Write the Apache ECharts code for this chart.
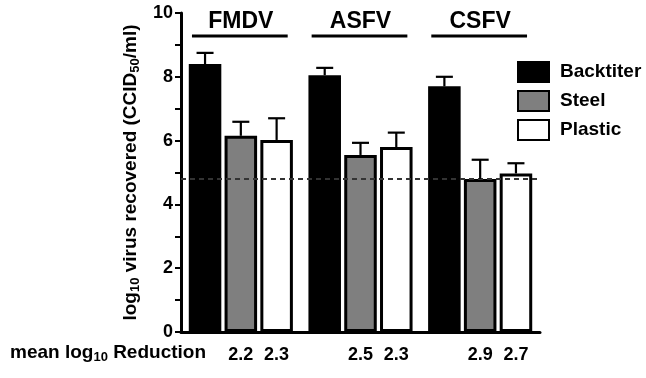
<!DOCTYPE html>
<html>
<head>
<meta charset="utf-8" />
<title>Virus recovery</title>
<script src="https://cdn.jsdelivr.net/npm/echarts@6/dist/echarts.min.js"></script>
<style>
  html, body { margin: 0; padding: 0; background: #fff; }
</style>
</head>
<body>
<div id="main" style="width: 646px; height: 378px;"></div>
<script>
// data
const categories = ['FMDV', 'ASFV', 'CSFV'];
const backtiter = [8.4, 8.05, 7.7];
const backtiterErr = [0.35, 0.23, 0.3];
const steel = [6.15, 5.55, 4.8];
const steelErr = [0.44, 0.38, 0.6];
const plastic = [6.02, 5.8, 4.97];
const plasticErr = [0.68, 0.45, 0.32];
const reductionSteel = ['2.2', '2.5', '2.9'];
const reductionPlastic = ['2.3', '2.3', '2.7'];
const detectionLimit = 4.8;

const FONT = 'Liberation Sans, Arial, sans-serif';
const CAT_GAP = 0.13, BAR_GAP = 0.1;

const chart = echarts.init(document.getElementById('main'));

// error bar drawn above the k-th bar of each group
function errorSeries(name, k, vals, errs) {
  return {
    type: 'custom',
    name: name + ' err',
    z: 5,
    data: vals.map((v, i) => [i, v, errs[i]]),
    renderItem: (params, api) => {
      const i = api.value(0), v = api.value(1), e = api.value(2);
      const base = api.coord([i, v]);
      const top = api.coord([i, v + e]);
      const catW = api.size([1, 0])[0];
      const w = catW * (1 - CAT_GAP) / (3 + 2 * BAR_GAP);
      const x = base[0] + (k - 1) * w * (1 + BAR_GAP);
      const st = { stroke: '#000', lineWidth: 2.2 };
      return {
        type: 'group',
        children: [
          { type: 'line', shape: { x1: x, y1: base[1], x2: x, y2: top[1] }, style: st },
          { type: 'line', shape: { x1: x - 8.5, y1: top[1], x2: x + 8.5, y2: top[1] }, style: st }
        ]
      };
    }
  };
}

const barLabel = arr => ({
  show: true,
  position: 'bottom',
  distance: 14,
  formatter: p => arr[p.dataIndex],
  fontFamily: FONT,
  fontWeight: 'bold',
  fontSize: 18,
  color: '#000'
});

const option = {
  animation: false,
  grid: { left: 181, right: 106, top: 13, bottom: 46 },
  legend: {
    data: ['Backtiter', 'Steel', 'Plastic'],
    orient: 'vertical',
    left: 517,
    top: 61,
    padding: 0,
    itemWidth: 31,
    itemHeight: 20,
    itemGap: 7,
    icon: 'rect',
    textStyle: { fontFamily: FONT, fontWeight: 'bold', fontSize: 19, color: '#000', padding: [0, 0, 0, 6] }
  },
  xAxis: {
    type: 'category',
    data: categories,
    axisLine: { lineStyle: { color: '#000', width: 3 } },
    axisTick: { show: false },
    axisLabel: { show: false }
  },
  yAxis: {
    type: 'value',
    min: 0,
    max: 10,
    interval: 1,
    splitLine: { show: false },
    axisLine: { show: true, lineStyle: { color: '#000', width: 3 } },
    axisTick: { show: true, length: 6, lineStyle: { color: '#000', width: 2 } },
    axisLabel: {
      margin: 8,
      formatter: v => (v % 2 === 0 ? String(v) : ''),
      fontFamily: FONT, fontWeight: 'bold', fontSize: 18, color: '#000'
    },
    name: 'log{s|10} virus recovered (CCID{s|50}/ml)',
    nameLocation: 'middle',
    nameRotate: 90,
    nameGap: 33,
    nameTextStyle: {
      fontFamily: FONT, fontWeight: 'bold', fontSize: 19, color: '#000',
      rich: { s: { fontFamily: FONT, fontWeight: 'bold', fontSize: 13, color: '#000', padding: [9, 0, 0, 0] } }
    }
  },
  graphic: [{
    type: 'text',
    left: 10,
    top: 343,
    style: {
      text: 'mean log{s|10} Reduction',
      font: 'bold 19px ' + FONT,
      fill: '#000',
      rich: { s: { font: 'bold 13px ' + FONT, fill: '#000', padding: [9, 0, 0, 0] } }
    }
  }],
  series: [
    {
      name: 'Backtiter',
      type: 'bar',
      data: backtiter,
      barCategoryGap: (CAT_GAP * 100) + '%',
      barGap: (BAR_GAP * 100) + '%',
      itemStyle: { color: '#000', borderColor: '#000', borderWidth: 3 },
      markLine: {
        silent: true,
        symbol: 'none',
        label: { show: false },
        lineStyle: { color: '#333', type: [5, 4], width: 2 },
        data: [{ yAxis: detectionLimit }]
      }
    },
    {
      name: 'Steel',
      type: 'bar',
      data: steel,
      barCategoryGap: (CAT_GAP * 100) + '%',
      barGap: (BAR_GAP * 100) + '%',
      itemStyle: { color: '#7f7f7f', borderColor: '#000', borderWidth: 3 },
      label: barLabel(reductionSteel)
    },
    {
      name: 'Plastic',
      type: 'bar',
      data: plastic,
      barCategoryGap: (CAT_GAP * 100) + '%',
      barGap: (BAR_GAP * 100) + '%',
      itemStyle: { color: '#fff', borderColor: '#000', borderWidth: 3 },
      label: barLabel(reductionPlastic)
    },
    errorSeries('Backtiter', 0, backtiter, backtiterErr),
    errorSeries('Steel', 1, steel, steelErr),
    errorSeries('Plastic', 2, plastic, plasticErr),
    {
      // virus names with underline above each group
      type: 'custom',
      name: 'groups',
      data: categories.map((c, i) => [i]),
      renderItem: (params, api) => {
        const i = api.value(0);
        const catW = api.size([1, 0])[0];
        const t = api.coord([i, 9.72]);
        const l = api.coord([i, 9.28]);
        const half = catW * 0.4;
        return {
          type: 'group',
          children: [
            { type: 'text', x: t[0], y: t[1],
              style: { text: categories[i], font: 'bold 23px ' + FONT, fill: '#000', align: 'center', verticalAlign: 'middle' } },
            { type: 'line', shape: { x1: l[0] - half - 1, y1: l[1], x2: l[0] + half - 1, y2: l[1] },
              style: { stroke: '#000', lineWidth: 3 } }
          ]
        };
      }
    }
  ]
};

chart.setOption(option);
</script>
</body>
</html>
